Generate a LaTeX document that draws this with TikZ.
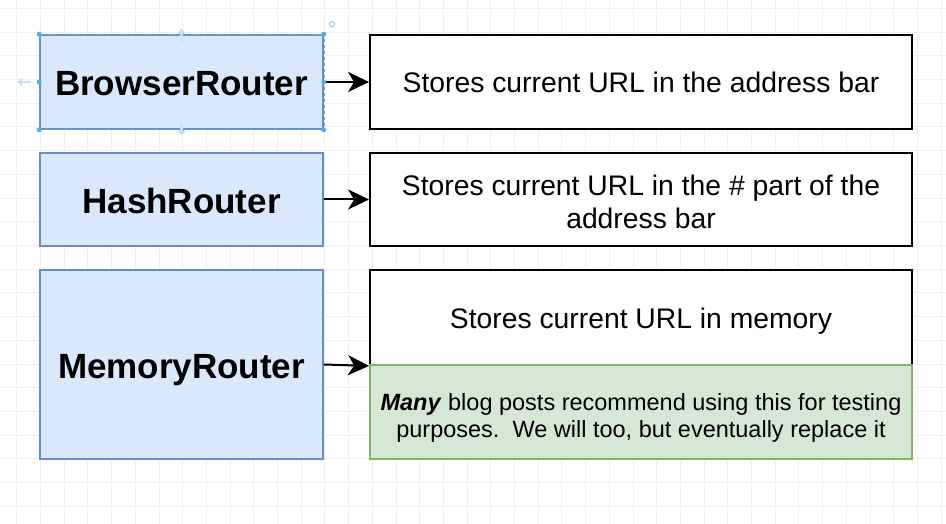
\documentclass[tikz,border=0pt]{standalone}
\usepackage{fontspec}
\setmainfont{Liberation Sans}
\usetikzlibrary{arrows.meta}
\definecolor{routerfill}{HTML}{DAE8FC}
\definecolor{routerline}{HTML}{6C8EBF}
\definecolor{notefill}{HTML}{D5E8D4}
\definecolor{noteline}{HTML}{82B366}
\definecolor{handleblue}{HTML}{5AA9E6}
\tikzset{
router/.style={draw=routerline,fill=routerfill,line width=1.6pt,minimum width=283pt,
  text height=27.5pt,text depth=0pt,font=\fontsize{35}{40}\selectfont\bfseries},
desc/.style={draw=black,fill=white,line width=1.8pt,minimum width=542pt,align=center,
  font=\fontsize{28.3}{33}\selectfont},
oneline/.style={text height=22pt,text depth=0pt},
note/.style={draw=noteline,fill=notefill,line width=1.6pt,minimum width=542pt,minimum height=94pt,
  align=center,font=\fontsize{23.5}{27}\selectfont},
link/.style={line width=2pt,-{Stealth[length=21pt,width=20pt,inset=6pt]}},
gridline/.style={black!6,line width=0.8pt},
handle/.style={fill=handleblue,draw=none,circle,inner sep=0pt,minimum size=5pt},
hint/.style={handleblue!35,line width=2.2pt,-{Triangle[length=5pt,width=8pt]}}
}
\begin{document}
\begin{tikzpicture}[x=1pt,y=-1pt]
\useasboundingbox (0,0) rectangle (946,524);
\fill[white] (0,0) rectangle (946,524);
%background grid
\foreach \k in {0,...,39} \draw[gridline] (16.7+\k*23.7,0)--(16.7+\k*23.7,524);
\foreach \k in {0,...,22} \draw[gridline] (0,8.4+\k*23.7)--(946,8.4+\k*23.7);

\node[router,minimum height=94pt](B) at (181.5,82){BrowserRouter};
\node[router,minimum height=93pt](H) at (181.5,199.5){HashRouter};
\node[router,minimum height=189pt](M) at (181.5,364.5){MemoryRouter};

\node[desc,oneline,minimum height=94pt](Bdesc) at (641,82){Stores current URL in the address bar};
\node[desc,minimum height=93pt](Hdesc) at (641,199.5){\rule{0pt}{26pt}Stores current URL in the \# part of the\\address bar};
\node[desc,oneline,minimum height=95pt](Mdesc) at (641,317.5){Stores current URL in memory};
\node[note](Mnote) at (641,412){\rule{0pt}{28pt}\textbf{\textit{Many}} blog posts recommend using this for testing\\purposes.\ \ We will too, but eventually replace it};

\draw[link] (B.east)--(Bdesc.west);
\draw[link] (H.east)--(Hdesc.west);
\draw[link] (M.east)--(Mdesc.south west);

%selection of BrowserRouter
\draw[handleblue,dashed,line width=0.6pt] (B.north west) rectangle (B.south east);
\foreach \a in {north west,north,north east,west,east,south west,south,south east}
  \node[handle] at (B.\a){};
\coordinate (up) at ([yshift=-8pt]B.north);
\coordinate (dn) at ([yshift=8pt]B.south);
\coordinate (lt) at ([xshift=-8pt]B.west);
\draw[hint] (up)--++(0,-14);
\draw[hint] (dn)--++(0,14);
\draw[hint] (lt)--++(-14,0);
\draw[handleblue!70,line width=0.8pt] ([shift={(8,-10)}]B.north east) circle (2.6pt);
\end{tikzpicture}
\end{document}
